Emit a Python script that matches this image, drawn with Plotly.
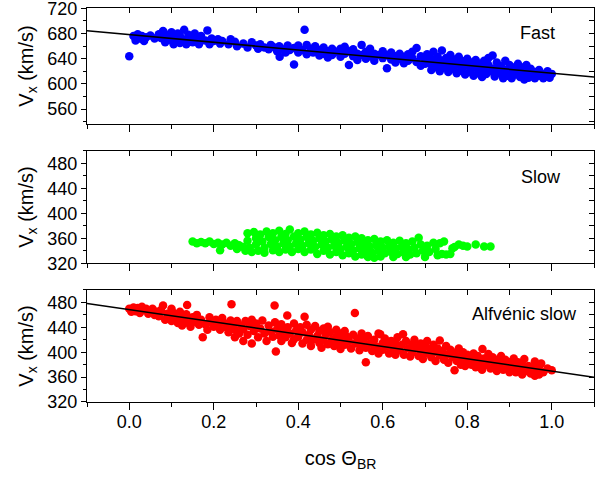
import plotly.graph_objects as go

# ---------------- data ----------------
fast_cos = [0.00, 0.01, 0.015, 0.02, 0.025, 0.03, 0.035, 0.04, 0.05, 0.06, 0.07, 0.075, 0.08, 0.085, 0.09, 0.095,
            0.10, 0.10, 0.105, 0.11, 0.115, 0.12, 0.12, 0.13, 0.13, 0.135, 0.14, 0.145, 0.15, 0.155, 0.16, 0.165,
            0.17, 0.18, 0.185, 0.19, 0.195, 0.20, 0.21, 0.215, 0.22, 0.235, 0.24, 0.25, 0.255, 0.27, 0.28, 0.29,
            0.30, 0.305, 0.31, 0.32, 0.33, 0.335, 0.34, 0.35, 0.355, 0.356, 0.36, 0.37, 0.375, 0.38, 0.39, 0.39,
            0.40, 0.40, 0.41, 0.415, 0.42, 0.42, 0.43, 0.435, 0.44, 0.45, 0.45, 0.46, 0.46, 0.47, 0.47, 0.48,
            0.48, 0.49, 0.50, 0.50, 0.51, 0.51, 0.52, 0.52, 0.53, 0.53, 0.54, 0.54, 0.55, 0.55, 0.56, 0.56,
            0.57, 0.57, 0.58, 0.58, 0.59, 0.60, 0.60, 0.61, 0.61, 0.62, 0.62, 0.63, 0.63, 0.64, 0.64, 0.65,
            0.65, 0.66, 0.66, 0.67, 0.67, 0.68, 0.68, 0.69, 0.69, 0.70, 0.70, 0.705,
            0.71, 0.71, 0.715, 0.72, 0.72, 0.725, 0.73, 0.73, 0.735, 0.74, 0.74, 0.745, 0.75, 0.75, 0.755,
            0.76, 0.76, 0.765, 0.77, 0.77, 0.775, 0.78, 0.78, 0.785, 0.79, 0.79, 0.795, 0.80, 0.80, 0.805,
            0.81, 0.81, 0.815, 0.82, 0.82, 0.825, 0.83, 0.83, 0.835, 0.84, 0.84, 0.845, 0.85, 0.85, 0.855,
            0.86, 0.86, 0.865, 0.87, 0.87, 0.875, 0.88, 0.88, 0.885, 0.89, 0.89, 0.895, 0.90, 0.90, 0.905,
            0.91, 0.91, 0.92, 0.92, 0.925, 0.93, 0.93, 0.935, 0.94, 0.94, 0.945, 0.95, 0.95, 0.96, 0.96,
            0.97, 0.97, 0.98, 0.98, 0.99, 0.99, 1.00, 0.995]
fast_vx = [644, 676, 669, 679, 672, 676, 668, 674, 677, 672, 679, 673, 684, 666, 678, 670,
           682, 674, 663, 670, 680, 676, 665, 686, 670, 663, 678, 672, 666, 680, 670, 663,
           676, 669, 685, 663, 672, 668, 671, 664, 668, 663, 671, 667, 660, 664, 658, 666,
           661, 656, 663, 658, 655, 662, 659, 652, 660, 643, 656, 650, 661, 654, 631, 657,
           650, 661, 654, 686, 662, 647, 656, 650, 660, 645, 654, 658, 648, 652, 642, 656,
           646, 651, 656, 643, 648, 659, 630, 652, 644, 655, 648, 638, 662, 646, 651, 640,
           644, 656, 648, 637, 646, 641, 652, 625, 646, 639, 650, 644, 634, 648, 640, 643,
           633, 647, 637, 641, 651, 657, 635, 644, 629, 640, 632, 647,
           643, 633, 622, 651, 638, 627, 643, 633, 620, 653, 637, 626, 641, 630, 619,
           646, 634, 624, 639, 628, 617, 643, 632, 621, 636, 626, 615, 640, 630, 619,
           634, 624, 613, 638, 628, 617, 632, 622, 611, 637, 626, 616, 641, 630, 620,
           645, 624, 612, 634, 619, 627, 628, 616, 609, 637, 622, 613, 630, 618, 609,
           626, 615, 632, 620, 611, 626, 615, 607, 630, 620, 610, 624, 613, 619, 609,
           622, 613, 616, 609, 620, 612, 616, 610]

slow_cos = [0.15, 0.16, 0.17, 0.18, 0.19, 0.20, 0.21, 0.215, 0.22, 0.23, 0.24, 0.25, 0.255, 0.26, 0.27, 0.275,
            0.28, 0.28, 0.285, 0.29, 0.295, 0.30, 0.30, 0.305, 0.31, 0.315, 0.32, 0.32,
            0.325, 0.33, 0.335, 0.34, 0.34, 0.345, 0.35, 0.355, 0.355, 0.36, 0.365, 0.37,
            0.37, 0.375, 0.38, 0.385, 0.38, 0.39, 0.395, 0.40, 0.40, 0.405, 0.41, 0.415,
            0.415, 0.42, 0.425, 0.43, 0.43, 0.435, 0.44, 0.445, 0.445, 0.45, 0.455, 0.46,
            0.46, 0.465, 0.47, 0.475, 0.475, 0.48, 0.485, 0.49, 0.49, 0.495, 0.50, 0.505,
            0.505, 0.51, 0.515, 0.52, 0.52, 0.525, 0.53, 0.535, 0.535, 0.54, 0.545, 0.55,
            0.55, 0.555, 0.56, 0.565, 0.565, 0.57, 0.575, 0.58, 0.58, 0.585, 0.59, 0.595,
            0.595, 0.60, 0.605, 0.61, 0.615, 0.62, 0.625, 0.625, 0.63, 0.635,
            0.64, 0.645, 0.65, 0.655, 0.655, 0.66, 0.665, 0.67, 0.675, 0.68,
            0.685, 0.69, 0.695, 0.70, 0.705, 0.71, 0.72, 0.725, 0.73, 0.735,
            0.74, 0.75, 0.76, 0.77, 0.78, 0.79, 0.80, 0.82, 0.84, 0.855, 0.745, 0.765]
slow_vx = [355, 352, 354, 352, 355, 351, 353, 341, 350, 353, 348, 352, 343, 349, 346, 340,
           368, 356, 345, 338, 370, 360, 350, 340, 366, 355, 345, 337,
           371, 362, 351, 341, 368, 357, 347, 338, 372, 362, 352, 342,
           367, 357, 347, 338, 374, 363, 352, 343, 368, 358, 348, 338,
           371, 362, 352, 342, 366, 356, 346, 335, 369, 360, 350, 340,
           365, 355, 345, 334, 367, 358, 348, 338, 363, 353, 343, 333,
           365, 356, 346, 336, 361, 351, 341, 331, 363, 354, 344, 334,
           360, 350, 340, 330, 357, 347, 337, 329, 359, 349, 340, 331,
           355, 345, 336, 357, 347, 338, 330, 353, 344, 335,
           356, 346, 337, 330, 352, 343, 334, 355, 345, 336,
           361, 350, 340, 330, 348, 338, 353, 343, 333, 352,
           335, 334, 335, 346, 350, 348, 347, 350, 347, 347, 355, 344]

alf_cos = [0.00, 0.005, 0.01, 0.015, 0.02, 0.025, 0.03, 0.035, 0.04, 0.045, 0.05, 0.055, 0.06, 0.065, 0.07, 0.075,
           0.08, 0.085, 0.09, 0.095, 0.10, 0.10, 0.105, 0.11, 0.115, 0.12, 0.12, 0.125, 0.13, 0.135, 0.137, 0.14,
           0.145, 0.15, 0.155, 0.16, 0.165, 0.17, 0.174, 0.18, 0.185, 0.19, 0.195, 0.20, 0.205, 0.21, 0.215, 0.22,
           0.225, 0.23, 0.235, 0.24, 0.242, 0.245, 0.25, 0.25, 0.255, 0.26, 0.265, 0.27, 0.27, 0.275, 0.28, 0.285,
           0.29, 0.29, 0.295, 0.30, 0.305, 0.31, 0.315, 0.32, 0.325, 0.33, 0.335, 0.34, 0.344, 0.345, 0.347, 0.35,
           0.355, 0.36, 0.36, 0.365, 0.37, 0.374, 0.375, 0.38, 0.385, 0.39, 0.39, 0.395, 0.40, 0.405, 0.41, 0.41,
           0.415, 0.42, 0.42, 0.425, 0.43, 0.43, 0.435, 0.44, 0.445, 0.45, 0.45, 0.455, 0.46, 0.46, 0.465, 0.47,
           0.47, 0.475, 0.48, 0.485, 0.49, 0.49, 0.495, 0.50, 0.50, 0.505, 0.51, 0.51, 0.515, 0.52, 0.525, 0.53,
           0.534, 0.535, 0.54, 0.545, 0.55, 0.55, 0.555, 0.56, 0.56, 0.565, 0.57, 0.575, 0.58, 0.585, 0.59, 0.59,
           0.594, 0.60, 0.60, 0.605, 0.61, 0.615, 0.62, 0.625, 0.63, 0.63, 0.635, 0.64, 0.645, 0.648, 0.65, 0.655,
           0.66, 0.665, 0.67, 0.67, 0.675, 0.68, 0.685, 0.69, 0.69, 0.695, 0.70, 0.70, 0.705, 0.71, 0.715, 0.72,
           0.72, 0.725, 0.73, 0.735, 0.735, 0.74, 0.745, 0.75, 0.75, 0.755, 0.76, 0.765, 0.77, 0.77, 0.775, 0.78,
           0.78, 0.785, 0.79, 0.79, 0.795, 0.80, 0.80, 0.805, 0.81, 0.815, 0.82, 0.82, 0.825, 0.83, 0.836, 0.835,
           0.84, 0.845, 0.85, 0.85, 0.855, 0.86, 0.865, 0.87, 0.87, 0.875, 0.88, 0.88, 0.885, 0.89, 0.895, 0.90,
           0.90, 0.905, 0.91, 0.91, 0.915, 0.92, 0.925, 0.93, 0.93, 0.935, 0.94, 0.945, 0.95, 0.955, 0.96, 0.96,
           0.965, 0.97, 0.97, 0.975, 0.98, 1.00, 0.99]
alf_vx = [470, 465, 472, 466, 471, 463, 473, 468, 470, 462, 466, 470, 460, 465, 458, 468,
          475, 452, 462, 457, 470, 450, 463, 455, 447, 465, 458, 443, 452, 461, 476, 447,
          441, 456, 449, 460, 444, 452, 424, 445, 436, 456, 448, 441, 452, 444, 436, 455,
          447, 440, 432, 451, 477, 443, 424, 436, 450, 430, 443, 418, 437, 450, 428, 442,
          414, 452, 434, 446, 424, 438, 451, 430, 418, 443, 433, 425, 475, 448, 401, 437,
          427, 418, 445, 434, 424, 459, 440, 430, 415, 446, 421, 435, 425, 440, 414, 432,
          457, 420, 444, 428, 410, 436, 420, 442, 426, 415, 434, 407, 438, 420, 428, 413,
          441, 432, 420, 410, 436, 425, 415, 430, 405, 422, 434, 412, 425, 418, 406, 428,
          463, 414, 422, 403, 430, 411, 420, 384, 407, 426, 414, 402, 420, 409, 430, 398,
          429, 415, 404, 422, 410, 398, 418, 406, 414, 396, 424, 403, 412, 429, 396, 418,
          406, 393, 413, 400, 420, 408, 394, 414, 402, 389, 410, 398, 418, 405, 392, 412,
          400, 386, 406, 419, 395, 402, 388, 410, 396, 383, 404, 392, 371, 399, 386, 406,
          393, 380, 400, 388, 378, 396, 384, 392, 380, 398, 388, 376, 394, 383, 405, 372,
          390, 380, 397, 386, 374, 392, 381, 370, 388, 378, 394, 384, 372, 388, 378, 368,
          384, 374, 390, 380, 368, 384, 374, 364, 379, 389, 370, 378, 366, 374, 385, 362,
          371, 377, 364, 382, 368, 371, 374]

# linear fits drawn in the reference (intercept, slope)
fast_fit = (678.4, -61.25)
alf_fit = (468.5, -98.7)
x_range = [-0.1, 1.1]

panel_labels = ["Fast", "Slow", "Alfvénic slow"]

# ---------------- figure ----------------
FONT = "Liberation Sans, Arial, sans-serif"
fig = go.Figure()

def fit_line(fit):
    xs = x_range
    return xs, [fit[0] + fit[1] * v for v in xs]

mk = dict(size=8.5, line=dict(width=0))
fig.add_trace(go.Scatter(x=fast_cos, y=fast_vx, mode="markers", marker=dict(color="#0000FF", **mk),
                         xaxis="x3", yaxis="y3", showlegend=False))
fx, fy = fit_line(fast_fit)
fig.add_trace(go.Scatter(x=fx, y=fy, mode="lines", line=dict(color="black", width=1.5),
                         xaxis="x3", yaxis="y3", showlegend=False))
fig.add_trace(go.Scatter(x=slow_cos, y=slow_vx, mode="markers", marker=dict(color="#00FF00", **mk),
                         xaxis="x2", yaxis="y2", showlegend=False))
fig.add_trace(go.Scatter(x=alf_cos, y=alf_vx, mode="markers", marker=dict(color="#FF0000", **mk),
                         xaxis="x", yaxis="y", showlegend=False))
ax, ay = fit_line(alf_fit)
fig.add_trace(go.Scatter(x=ax, y=ay, mode="lines", line=dict(color="black", width=1.5),
                         xaxis="x", yaxis="y", showlegend=False))

for xa, ya in [("x4", "y4"), ("x5", "y5"), ("x6", "y6")]:
    fig.add_trace(go.Scatter(x=[None], y=[None], xaxis=xa, yaxis=ya, showlegend=False, hoverinfo="skip"))

dom3 = [0.0, 0.2843]
dom2 = [0.352, 0.6378]
dom1 = [0.7056, 1.0]
r1 = [536.5, 720.5]
r2 = [320, 500]
r3 = [320, 500]

tickfont = dict(family=FONT, size=18, color="black")
LW = 1.3

def xbottom(anchor, labels, title=None):
    d = dict(anchor=anchor, domain=[0, 1], range=x_range, showline=True, linecolor="black", linewidth=LW,
             ticks="outside", ticklen=7, tickwidth=1.2, tickcolor="black", dtick=0.2, tick0=0,
             tickformat=".1f", showticklabels=labels, tickfont=tickfont, showgrid=False, zeroline=False,
             automargin=False, ticklabeloverflow="allow", ticklabelstandoff=-4,
             minor=dict(dtick=0.1, ticks="outside", ticklen=4, tickwidth=1.2, tickcolor="black", showgrid=False))
    if title:
        d["title"] = dict(text=title, font=dict(family=FONT, size=20, color="black"), standoff=20)
    return d

def xtop(overlay, anchor):
    return dict(overlaying=overlay, anchor=anchor, side="top", range=x_range, showline=True, linecolor="black",
                linewidth=LW, ticks="inside", ticklen=5, tickwidth=1.2, tickcolor="black", dtick=0.1, tick0=0,
                showticklabels=False, showgrid=False, zeroline=False, automargin=False)

def yleft(anchor, dom, rng):
    return dict(anchor=anchor, domain=dom, range=rng, showline=True, linecolor="black", linewidth=LW,
                ticks="outside", ticklen=5, tickwidth=1.2, tickcolor="black", dtick=40, tick0=0,
                tickfont=tickfont, showgrid=False, zeroline=False, automargin=False, ticklabeloverflow="allow",
                minor=dict(dtick=20, ticks="outside", ticklen=3, tickwidth=1.2, tickcolor="black", showgrid=False),
                title=dict(text="V<sub>x</sub> (km/s)", font=dict(family=FONT, size=20, color="black"), standoff=8))

def yright(overlay, anchor, dom, rng):
    return dict(overlaying=overlay, anchor=anchor, side="right", domain=dom, range=rng, showline=True,
                linecolor="black", linewidth=LW, ticks="inside", ticklen=5, tickwidth=1.2, tickcolor="black",
                dtick=20, tick0=0, showticklabels=False, showgrid=False, zeroline=False, automargin=False)

fig.update_layout(
    width=605, height=478,
    margin=dict(l=87, r=11, t=8, b=76, autoexpand=False),
    plot_bgcolor="white", paper_bgcolor="white",
    font=dict(family=FONT, color="black"),
    xaxis=xbottom("y", True, "cos Θ<sub>BR</sub>"),
    xaxis2=xbottom("y2", False),
    xaxis3=xbottom("y3", False),
    yaxis=yleft("x", dom3, r3),
    yaxis2=yleft("x2", dom2, r2),
    yaxis3=yleft("x3", dom1, r1),
    xaxis4=xtop("x", "y4"),
    xaxis5=xtop("x2", "y5"),
    xaxis6=xtop("x3", "y6"),
    yaxis4=yright("y", "x4", dom3, r3),
    yaxis5=yright("y2", "x5", dom2, r2),
    yaxis6=yright("y3", "x6", dom1, r1),
    annotations=[
        dict(text=panel_labels[0], x=0.967, y=681, xref="x3", yref="y3", showarrow=False,
             font=dict(family=FONT, size=18, color="black")),
        dict(text=panel_labels[1], x=0.975, y=458, xref="x2", yref="y2", showarrow=False,
             font=dict(family=FONT, size=18, color="black")),
        dict(text=panel_labels[2], x=0.936, y=461, xref="x", yref="y", showarrow=False,
             font=dict(family=FONT, size=18, color="black")),
    ],
)

fig.write_html("out.html", config={"displayModeBar": False},
               post_script="document.body.style.margin='0';document.body.style.overflow='hidden';")
